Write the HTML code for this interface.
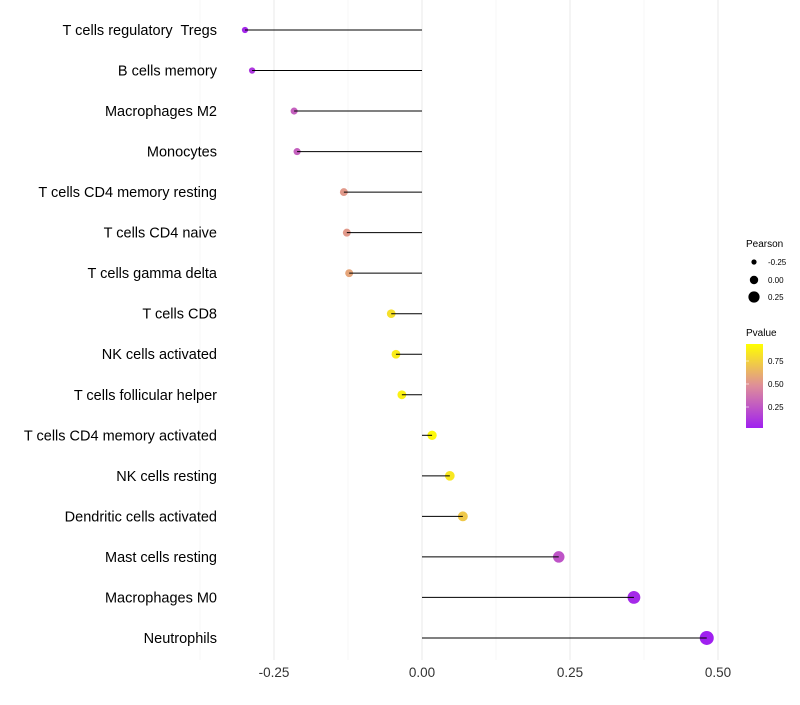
<!DOCTYPE html>
<html><head><meta charset="utf-8"><style>
body{margin:0;background:#fff;font-family:"Liberation Sans",sans-serif}
text{white-space:pre}
</style></head><body>
<svg id="chart" width="800" height="700" xmlns="http://www.w3.org/2000/svg" font-family="Liberation Sans, sans-serif">
<g id="grid"></g><g id="marks"></g><g id="labels"></g><g id="legend"></g>
</svg>
<script>
const categories=["T cells regulatory  Tregs","B cells memory","Macrophages M2","Monocytes","T cells CD4 memory resting","T cells CD4 naive","T cells gamma delta","T cells CD8","NK cells activated","T cells follicular helper","T cells CD4 memory activated","NK cells resting","Dendritic cells activated","Mast cells resting","Macrophages M0","Neutrophils"];
const pearson=[-0.299,-0.287,-0.216,-0.211,-0.132,-0.127,-0.123,-0.052,-0.044,-0.034,0.017,0.047,0.069,0.231,0.358,0.481];
const pvalue=[0.05,0.12,0.3,0.3,0.55,0.55,0.6,0.85,0.9,0.92,0.95,0.88,0.75,0.25,0.06,0.02];
const xTicks=[-0.25,0,0.25,0.5];
const xTickLabels=["-0.25","0.00","0.25","0.50"];
const NS="http://www.w3.org/2000/svg";
const X=v=>422+v*592;
const Y=i=>30+i*40.53;
const R=v=>4.6+v*5;
function col(p){
  const stops=[[0,[160,32,240]],[0.5,[222,141,154]],[1,[255,255,0]]];
  const t=Math.max(0,Math.min(1,(p-0.02)/0.96));
  let a=stops[0],b=stops[1];if(t>0.5){a=stops[1];b=stops[2];}
  const u=(t-a[0])/(b[0]-a[0]);
  return `rgb(${a[1].map((c,k)=>Math.round(c+(b[1][k]-c)*u)).join(",")})`;
}
function mk(tag,attrs,parent,text){const e=document.createElementNS(NS,tag);for(const k in attrs)e.setAttribute(k,attrs[k]);if(text!==undefined)e.textContent=text;document.getElementById(parent).appendChild(e);return e;}
[-0.375,-0.125,0.125,0.375].forEach(v=>{const l=mk("line",{x1:X(v),x2:X(v),y1:0,y2:660,stroke:"#f2f2f2","stroke-width":0.6},"grid");

});
xTicks.forEach((v,i)=>{const l=mk("line",{x1:X(v),x2:X(v),y1:0,y2:660,stroke:"#ebebeb","stroke-width":1.1},"grid");


const t=mk("text",{x:X(v),y:677,"text-anchor":"middle","font-size":13.5,fill:"#333"},"labels",xTickLabels[i]);

});
categories.forEach((c,i)=>{
  const y=Y(i);
  const t=mk("text",{x:217,y:y+5,"text-anchor":"end","font-size":14.5,fill:"#000"},"labels",c);
  
  
  const d=mk("circle",{cx:X(pearson[i]),cy:y,r:R(pearson[i]),fill:col(pvalue[i])},"marks");
  
  
  const l=mk("line",{x1:X(0),x2:X(pearson[i]),y1:y,y2:y,stroke:"#000","stroke-width":1},"marks");
  
  
});
const lt=mk("text",{x:746,y:247,"font-size":10,fill:"#000"},"legend","Pearson");


[[-0.25,262],[0,280],[0.25,297]].forEach(([v,y],i)=>{
  const c=mk("circle",{cx:754,cy:y,r:[2.6,4.2,5.6][i],fill:"#000"},"legend");
  
  
  const t=mk("text",{x:768,y:y+3,"font-size":8,fill:"#000"},"legend",["-0.25","0.00","0.25"][i]);
  
  
});
const pt=mk("text",{x:746,y:336,"font-size":10,fill:"#000"},"legend","Pvalue");


const defs=mk("defs",{},"legend");
const g=document.createElementNS(NS,"linearGradient");g.setAttribute("id","pg");g.setAttribute("x1","0");g.setAttribute("y1","1");g.setAttribute("x2","0");g.setAttribute("y2","0");defs.appendChild(g);
[0,0.25,0.5,0.75,1].forEach(s=>{const st=document.createElementNS(NS,"stop");st.setAttribute("offset",s);st.setAttribute("stop-color",col(0.02+s*0.96));g.appendChild(st);});
const bar=mk("rect",{x:746,y:344,width:17,height:84,fill:"url(#pg)"},"legend");


[[0.75,361],[0.5,384],[0.25,407]].forEach(([v,y])=>{
  const tk=mk("line",{x1:746,x2:749,y1:y,y2:y,stroke:"#fff","stroke-width":0.6},"legend");
  
  
  const t=mk("text",{x:768,y:y+3,"font-size":8,fill:"#000"},"legend",v.toFixed(2));
  
  
});
</script>
</body></html>
